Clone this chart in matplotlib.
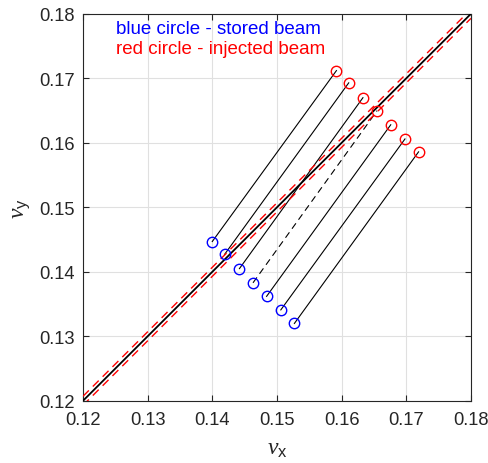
import numpy as np
import matplotlib
matplotlib.use("Agg")
import matplotlib.pyplot as plt

plt.rcParams["font.family"] = ["Liberation Sans", "DejaVu Sans"]
plt.rcParams["mathtext.fontset"] = "custom"
plt.rcParams["mathtext.rm"] = "Liberation Sans"
plt.rcParams["mathtext.it"] = "Liberation Serif:italic"

# stored beam (blue) and injected beam (red) tunes
stored_x = [0.1400, 0.1419, 0.1442, 0.1463, 0.1484, 0.1506, 0.1527]
stored_y = [0.1447, 0.1427, 0.1405, 0.1383, 0.1362, 0.1341, 0.1320]
inj_x = [0.1592, 0.1611, 0.1633, 0.1655, 0.1676, 0.1698, 0.1719]
inj_y = [0.1712, 0.1693, 0.1670, 0.1650, 0.1628, 0.1606, 0.1586]
dashed_idx = 3

diag = [0.12, 0.18]
offset = 0.0007

fig = plt.figure(figsize=(4.88, 4.64), dpi=100)
ax = fig.add_axes([0.170, 0.134, 0.795, 0.834])

ax.plot(diag, diag, color="black", lw=1.3, zorder=3)
ax.plot(diag, [d + offset for d in diag], color="red", lw=1.0, ls=(0, (6, 4)), zorder=3)
ax.plot(diag, [d - offset for d in diag], color="red", lw=1.0, ls=(0, (6, 4)), zorder=3)

for i in range(len(stored_x)):
    ls = (0, (6, 4)) if i == dashed_idx else "-"
    ax.plot([stored_x[i], inj_x[i]], [stored_y[i], inj_y[i]], color="black", lw=0.8, ls=ls, zorder=2)

ax.plot(stored_x, stored_y, "o", mfc="none", mec="blue", ms=7.5, mew=1.0, zorder=4)
ax.plot(inj_x, inj_y, "o", mfc="none", mec="red", ms=7.5, mew=1.0, zorder=4)

ax.text(0.1251, 0.1777, "blue circle - stored beam", color="blue", fontsize=13.5, va="center")
ax.text(0.1251, 0.1747, "red circle - injected beam", color="red", fontsize=13.5, va="center")

ax.set_xlim(0.12, 0.18)
ax.set_ylim(0.12, 0.18)
ticks = [0.12, 0.13, 0.14, 0.15, 0.16, 0.17, 0.18]
ax.set_xticks(ticks)
ax.set_yticks(ticks)
ax.set_xticklabels(["%.2f" % t for t in ticks])
ax.set_yticklabels(["%.2f" % t for t in ticks])
ax.tick_params(direction="in", length=4, width=0.8, labelsize=13.2, colors="0.15", top=True, right=True)
ax.tick_params(axis="x", pad=7)
ax.tick_params(axis="y", pad=6)
ax.grid(True, color="0.88", lw=0.8)
ax.set_axisbelow(True)
for s in ax.spines.values():
    s.set_color("0.15")
    s.set_linewidth(0.8)

ax.set_xlabel(r"$\nu_{\mathrm{x}}$", fontsize=17, color="0.15", labelpad=7)
ax.set_ylabel(r"$\nu_{\mathrm{y}}$", fontsize=17, color="0.15", labelpad=5)

fig.savefig("out.png", dpi=100)
